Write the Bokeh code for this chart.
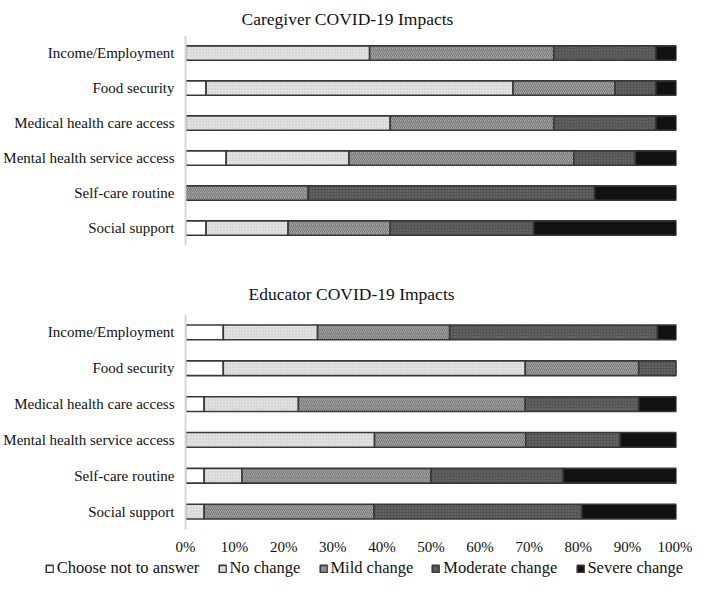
from bokeh.plotting import figure
from bokeh.layouts import column
from bokeh.models import (ColumnDataSource, FactorRange, Range1d, Legend, LegendItem,
                          FixedTicker, CustomJSTickFormatter)
from bokeh.embed import file_html
from bokeh.resources import INLINE

categories = ["Income/Employment", "Food security", "Medical health care access",
              "Mental health service access", "Self-care routine", "Social support"]
levels = ["Choose not to answer", "No change", "Mild change", "Moderate change", "Severe change"]
x_ticks = [0, 10, 20, 30, 40, 50, 60, 70, 80, 90, 100]

# Caregiver (percent)
caregiver_not_answer = [0.0, 4.2, 0.0, 8.3, 0.0, 4.2]
caregiver_no_change = [37.5, 62.5, 41.7, 25.0, 0.0, 16.7]
caregiver_mild = [37.5, 20.8, 33.3, 45.8, 25.0, 20.8]
caregiver_moderate = [20.8, 8.3, 20.8, 12.5, 58.3, 29.2]
caregiver_severe = [4.2, 4.2, 4.2, 8.4, 16.7, 29.1]

# Educator (percent)
educator_not_answer = [7.7, 7.7, 3.8, 0.0, 3.8, 0.0]
educator_no_change = [19.2, 61.5, 19.2, 38.5, 7.7, 3.8]
educator_mild = [26.9, 23.1, 46.2, 30.8, 38.5, 34.6]
educator_moderate = [42.3, 7.7, 23.1, 19.2, 26.9, 42.3]
educator_severe = [3.9, 0.0, 7.7, 11.5, 23.1, 19.3]

FONT = "Liberation Serif"
fills = ["#ffffff", "#e2e2e2", "#a2a2a2", "#535353", "#111111"]
hatches = [" ", "dot", "right_diagonal_line", "dot", " "]
hatch_colors = ["#ffffff", "#c2c2c2", "#767676", "#7a7a7a", "#111111"]
hatch_scales = [6, 3, 4, 3, 6]
style = dict(fill_color=fills, hatch_pattern=hatches, hatch_color=hatch_colors,
             hatch_scale=hatch_scales, hatch_weight=1.0, line_color="#383838", line_width=1.6)


def make_source(data):
    return ColumnDataSource(dict(cat=categories, **{lv: vals for lv, vals in zip(levels, data)}))


def make_fig(title, data, height, border_top, border_bottom, title_standoff, title_offset, show_x):
    src = make_source(data)
    p = figure(width=692, height=height, output_backend="svg", toolbar_location=None,
               y_range=FactorRange(factors=categories[::-1]), x_range=Range1d(0, 100),
               min_border_left=184, min_border_right=16,
               min_border_top=border_top, min_border_bottom=border_bottom)
    rs = p.hbar_stack(levels, y="cat", height=0.41, source=src, **style)
    p.title.text = title
    p.title.align = "left"
    p.title.offset = title_offset
    p.title.text_font = FONT
    p.title.text_font_size = "17.5px"
    p.title.text_font_style = "normal"
    p.title.text_color = "#111111"
    p.title.standoff = title_standoff
    p.outline_line_color = None
    p.xgrid.grid_line_color = None
    p.ygrid.grid_line_color = None
    p.yaxis.axis_line_color = "#d6d6d6"
    p.yaxis.axis_line_width = 2
    p.yaxis.major_tick_line_color = None
    p.yaxis.minor_tick_line_color = None
    p.yaxis.major_tick_out = 0
    p.yaxis.major_label_standoff = 11
    p.yaxis.major_label_text_font = FONT
    p.yaxis.major_label_text_font_size = "15px"
    p.yaxis.major_label_text_color = "#111111"
    if show_x:
        p.xaxis.ticker = FixedTicker(ticks=x_ticks)
        p.xaxis.formatter = CustomJSTickFormatter(code="return tick + '%';")
        p.xaxis.axis_line_color = None
        p.xaxis.major_tick_line_color = None
        p.xaxis.minor_tick_line_color = None
        p.xaxis.major_tick_out = 0
        p.xaxis.minor_tick_out = 0
        p.xaxis.major_label_standoff = 9
        p.xaxis.major_label_text_font = FONT
        p.xaxis.major_label_text_font_size = "15px"
        p.xaxis.major_label_text_color = "#111111"
    else:
        p.xaxis.visible = False
    return p, rs


educator_data = [educator_not_answer, educator_no_change, educator_mild,
                 educator_moderate, educator_severe]

p1, r1 = make_fig("Caregiver COVID-19 Impacts",
                  [caregiver_not_answer, caregiver_no_change, caregiver_mild,
                   caregiver_moderate, caregiver_severe],
                  251, 34, 6, 13, 56, False)
p2, r2 = make_fig("Educator COVID-19 Impacts", educator_data,
                  307, 63, 29, 22, 63, True)

# separate legend strip (own root, so its frame spans the full width)
p3 = figure(width=692, height=20, output_backend="svg", toolbar_location=None,
            x_range=Range1d(0, 100), y_range=FactorRange(factors=["legend"]),
            min_border_left=36, min_border_right=0, min_border_top=0, min_border_bottom=0)
p3.axis.visible = False
p3.grid.visible = False
p3.outline_line_color = None
r3 = p3.hbar_stack(levels, y="cat", height=0.41, source=make_source(educator_data), **style)
legend = Legend(items=[LegendItem(label=lv, renderers=[r]) for lv, r in zip(levels, r3)],
                orientation="horizontal", location="center",
                glyph_width=9, glyph_height=9, spacing=18, padding=0, margin=0,
                label_standoff=3, background_fill_alpha=0, border_line_color=None,
                label_text_font=FONT, label_text_font_size="16.5px", label_text_color="#111111")
p3.add_layout(legend)

open("out.html", "w").write(file_html([column(p1, p2, spacing=0), p3], INLINE))
